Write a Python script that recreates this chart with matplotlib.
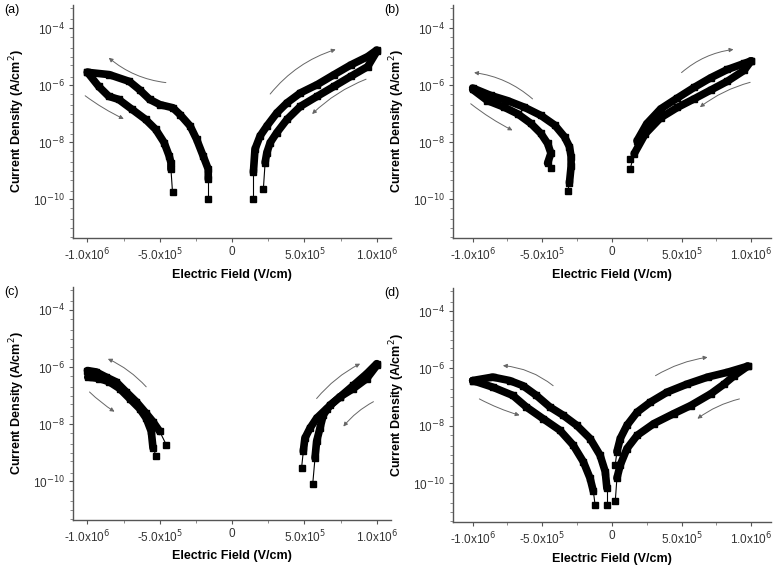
import numpy as np
import matplotlib
matplotlib.use("Agg")
import matplotlib.pyplot as plt
from matplotlib.ticker import LogLocator, NullFormatter, FixedLocator

plt.rcParams["font.family"] = ["Liberation Sans", "DejaVu Sans"]

# field in units of 1e6 V/cm, current density as log10(A/cm^2)
# each branch runs from the high-field end down to the low-field tail
a_neg_up_E = [-1.0, -0.85, -0.71, -0.64, -0.57, -0.50, -0.41, -0.36, -0.29, -0.245, -0.20, -0.165, -0.165, -0.165]
a_neg_up_J = [-5.55, -5.63, -5.87, -6.16, -6.50, -6.68, -6.79, -7.03, -7.43, -7.90, -8.48, -8.94, -9.29, -9.98]
a_neg_lo_E = [-1.0, -0.923, -0.853, -0.784, -0.691, -0.598, -0.528, -0.470, -0.435, -0.423, -0.423, -0.412]
a_neg_lo_J = [-5.55, -6.04, -6.39, -6.50, -6.85, -7.20, -7.55, -8.01, -8.48, -8.71, -8.94, -9.75]
a_pos_fw_E = [1.0, 0.937, 0.821, 0.705, 0.588, 0.472, 0.379, 0.309, 0.240, 0.193, 0.158, 0.147, 0.147]
a_pos_fw_J = [-4.77, -5.00, -5.29, -5.63, -5.98, -6.27, -6.62, -6.97, -7.43, -7.78, -8.24, -9.05, -9.98]
a_pos_rv_E = [1.0, 0.937, 0.821, 0.705, 0.588, 0.472, 0.379, 0.309, 0.263, 0.240, 0.228, 0.216]
a_pos_rv_J = [-4.82, -5.35, -5.69, -6.04, -6.39, -6.74, -7.20, -7.66, -8.01, -8.36, -8.71, -9.63]

b_neg_up_E = [-1.0, -0.87, -0.75, -0.63, -0.51, -0.41, -0.34, -0.305, -0.293, -0.293, -0.305, -0.317]
b_neg_up_J = [-6.10, -6.36, -6.54, -6.77, -7.06, -7.40, -7.81, -8.15, -8.50, -8.84, -9.42, -9.71]
b_neg_lo_E = [-1.0, -0.894, -0.774, -0.678, -0.582, -0.51, -0.462, -0.438, -0.462, -0.438]
b_neg_lo_J = [-6.15, -6.54, -6.77, -7.00, -7.34, -7.69, -8.04, -8.38, -8.73, -8.90]
b_pos_fw_E = [1.0, 0.95, 0.83, 0.71, 0.59, 0.47, 0.35, 0.24, 0.16, 0.13]
b_pos_fw_J = [-5.15, -5.48, -5.86, -6.17, -6.48, -6.78, -7.14, -7.70, -8.40, -8.95]
b_pos_rv_E = [1.0, 0.95, 0.83, 0.71, 0.59, 0.47, 0.35, 0.25, 0.18, 0.13]
b_pos_rv_J = [-5.15, -5.24, -5.45, -5.74, -6.08, -6.45, -6.83, -7.35, -7.95, -8.60]

c_neg_up_E = [-1.0, -0.94, -0.871, -0.801, -0.732, -0.663, -0.594, -0.547, -0.501, -0.455]
c_neg_up_J = [-6.12, -6.17, -6.35, -6.52, -6.87, -7.21, -7.62, -7.91, -8.25, -8.72]
c_neg_lo_E = [-0.998, -0.917, -0.848, -0.778, -0.709, -0.640, -0.594, -0.559, -0.547, -0.524]
c_neg_lo_J = [-6.35, -6.40, -6.52, -6.75, -7.10, -7.45, -7.79, -8.25, -8.83, -9.12]
c_pos_fw_E = [1.0, 0.931, 0.838, 0.746, 0.654, 0.584, 0.538, 0.503, 0.492, 0.480]
c_pos_fw_J = [-5.88, -6.23, -6.64, -7.04, -7.45, -7.79, -8.14, -8.49, -8.95, -9.53]
c_pos_rv_E = [1.0, 0.931, 0.838, 0.746, 0.677, 0.630, 0.607, 0.584, 0.573, 0.557]
c_pos_rv_J = [-5.94, -6.40, -6.75, -7.04, -7.33, -7.68, -8.14, -8.60, -9.18, -10.10]

d_neg_up_E = [-1.0, -0.856, -0.735, -0.639, -0.542, -0.446, -0.350, -0.253, -0.157, -0.085, -0.048, -0.036, -0.036]
d_neg_up_J = [-6.42, -6.30, -6.42, -6.60, -6.94, -7.34, -7.63, -7.98, -8.44, -9.02, -9.59, -10.17, -10.75]
d_neg_lo_E = [-1.0, -0.856, -0.711, -0.615, -0.494, -0.374, -0.278, -0.205, -0.157, -0.133, -0.121]
d_neg_lo_J = [-6.42, -6.65, -6.94, -7.34, -7.75, -8.15, -8.67, -9.25, -9.82, -10.28, -10.75]
d_pos_fw_E = [0.976, 0.831, 0.687, 0.542, 0.398, 0.277, 0.181, 0.108, 0.060, 0.036, 0.024]
d_pos_fw_J = [-5.92, -6.13, -6.30, -6.54, -6.82, -7.17, -7.52, -7.98, -8.44, -8.90, -9.35]
d_pos_rv_E = [0.976, 0.879, 0.807, 0.711, 0.566, 0.445, 0.301, 0.181, 0.108, 0.060, 0.036, 0.024]
d_pos_rv_J = [-5.92, -6.25, -6.54, -6.88, -7.29, -7.57, -7.92, -8.33, -8.79, -9.36, -9.82, -10.63]

# sweep-direction arrows: (E0, logJ0, E1, logJ1, curvature)
a_arrows = [(-0.458, -5.91, -0.853, -5.04, -0.15), (-1.016, -6.37, -0.749, -7.18, 0.05),
            (0.263, -6.31, 0.716, -4.75, -0.15), (0.926, -5.79, 0.553, -7.01, 0.1)]
b_arrows = [(-0.570, -6.48, -0.990, -5.56, 0.15), (-1.014, -6.65, -0.714, -7.58, 0.05),
            (0.500, -5.56, 0.873, -4.75, -0.15), (0.993, -5.90, 0.632, -6.77, 0.1)]
c_arrows = [(-0.594, -6.69, -0.859, -5.71, 0.1), (-0.986, -6.87, -0.813, -7.56, 0.05),
            (0.584, -7.10, 0.885, -5.88, -0.1), (0.977, -7.21, 0.769, -8.08, 0.1)]
d_arrows = [(-0.422, -6.60, -0.783, -5.90, 0.15), (-0.952, -7.06, -0.663, -7.63, 0.05),
            (0.313, -6.25, 0.687, -5.61, -0.1), (0.916, -7.06, 0.614, -7.75, 0.1)]

x_ticks = [-1.0e6, -5.0e5, 0, 5.0e5, 1.0e6]
x_ticklabels = [r"-1.0x10$^{6}$", r"-5.0x10$^{5}$", "0", r"5.0x10$^{5}$", r"1.0x10$^{6}$"]
y_ticks = [1e-4, 1e-6, 1e-8, 1e-10]
y_ticklabels = [r"10$^{-4}$", r"10$^{-6}$", r"10$^{-8}$", r"10$^{-10}$"]

panels = [
    ("(a)", [0.0936, 0.586, 0.408, 0.405], -1.10e6,
     [(a_neg_up_E, a_neg_up_J), (a_neg_lo_E, a_neg_lo_J), (a_pos_fw_E, a_pos_fw_J), (a_pos_rv_E, a_pos_rv_J)], a_arrows),
    ("(b)", [0.581, 0.586, 0.407, 0.405], -1.14e6,
     [(b_neg_up_E, b_neg_up_J), (b_neg_lo_E, b_neg_lo_J), (b_pos_fw_E, b_pos_fw_J), (b_pos_rv_E, b_pos_rv_J)], b_arrows),
    ("(c)", [0.0936, 0.0957, 0.408, 0.405], -1.10e6,
     [(c_neg_up_E, c_neg_up_J), (c_neg_lo_E, c_neg_lo_J), (c_pos_fw_E, c_pos_fw_J), (c_pos_rv_E, c_pos_rv_J)], c_arrows),
    ("(d)", [0.581, 0.092, 0.407, 0.407], -1.14e6,
     [(d_neg_up_E, d_neg_up_J), (d_neg_lo_E, d_neg_lo_J), (d_pos_fw_E, d_pos_fw_J), (d_pos_rv_E, d_pos_rv_J)], d_arrows),
]

fig = plt.figure(figsize=(7.8, 5.75), dpi=100)
for tag, rect, xmin, branches, arrows in panels:
    ax = fig.add_axes(rect)
    for e, lj in branches:
        E = np.array(e) * 1e6
        J = 10.0 ** np.array(lj)
        ax.plot(E[:-1], J[:-1], color="black", lw=5.5, solid_joinstyle="round", solid_capstyle="round")
        ax.plot(E[-2:], J[-2:], color="black", lw=0.8)
        ax.plot(E, J, "s", color="black", ms=4.5)
    for e0, j0, e1, j1, rad in arrows:
        ax.annotate("", xy=(e1 * 1e6, 10 ** j1), xytext=(e0 * 1e6, 10 ** j0),
                    arrowprops=dict(arrowstyle="-|>", color="#666666", lw=0.7,
                                    mutation_scale=6, shrinkA=0, shrinkB=0,
                                    connectionstyle="arc3,rad=%s" % rad))
    ax.set_yscale("log")
    ax.set_xlim(xmin, -xmin)
    ax.set_ylim(10 ** -11.35, 10 ** -3.2)
    ax.set_xticks(x_ticks)
    ax.set_xticklabels(x_ticklabels)
    ax.xaxis.set_minor_locator(FixedLocator([-7.5e5, -2.5e5, 2.5e5, 7.5e5]))
    ax.yaxis.set_major_locator(FixedLocator(y_ticks))
    ax.set_yticklabels(y_ticklabels)
    ax.yaxis.set_minor_locator(LogLocator(base=10, subs=(1.0, 2.0, 5.0), numticks=30))
    ax.yaxis.set_minor_formatter(NullFormatter())
    for s in ("top", "right"):
        ax.spines[s].set_visible(False)
    for s in ("left", "bottom"):
        ax.spines[s].set_color("#555555")
        ax.spines[s].set_linewidth(1.0)
    ax.tick_params(which="major", direction="out", length=3, width=0.8, color="#555555",
                   labelsize=8.5, labelcolor="#333333", pad=3)
    ax.tick_params(which="minor", direction="out", length=2, width=0.6, color="#777777")
    ax.set_xlabel("Electric Field (V/cm)", fontsize=9, fontweight="bold", labelpad=4)
    ax.set_ylabel("Current Density (A/cm$^{2}$)", fontsize=9, fontweight="bold", labelpad=4)
    fig.text(rect[0] - 0.088, rect[1] + rect[3] + 0.002, tag, fontsize=9, va="top", ha="left")

fig.savefig("out.png", dpi=100, facecolor="white")
